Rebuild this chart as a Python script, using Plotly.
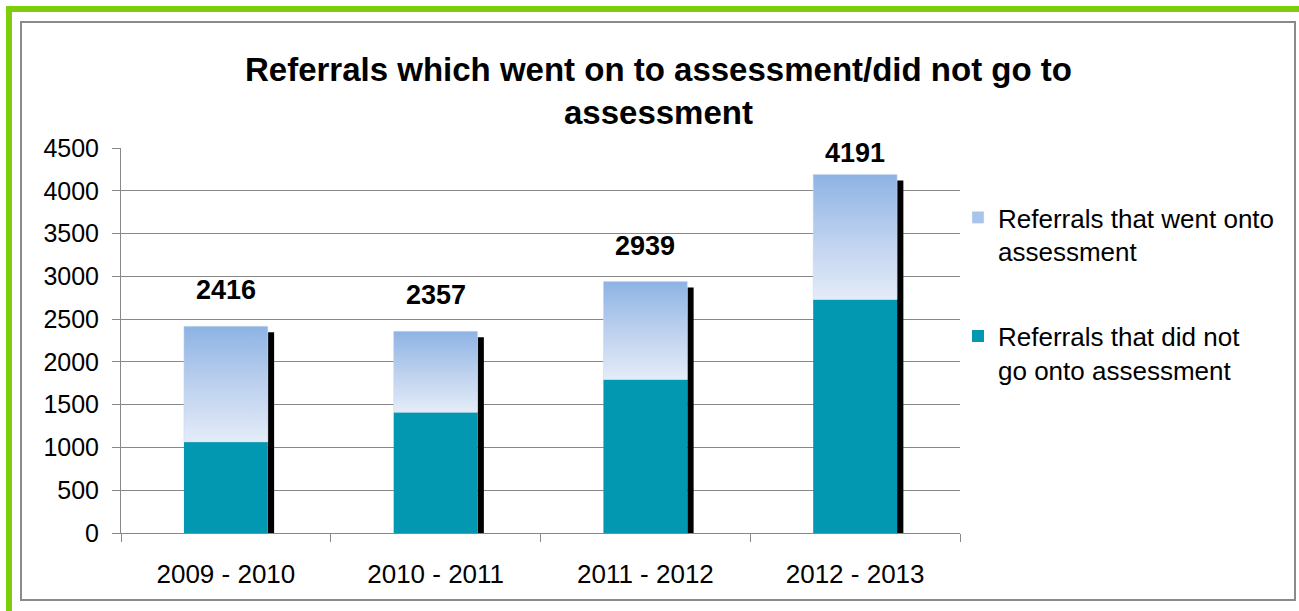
import plotly.graph_objects as go

# Referral counts per reporting year
periods = ["2009 - 2010", "2010 - 2011", "2011 - 2012", "2012 - 2013"]
not_assessed = [1065, 1410, 1795, 2730]   # referrals that did not go onto assessment
assessed = [1351, 947, 1144, 1461]        # referrals that went onto assessment
totals = [a + b for a, b in zip(not_assessed, assessed)]
y_ticks = [0, 500, 1000, 1500, 2000, 2500, 3000, 3500, 4000, 4500]

name_assessed = "Referrals that went onto<br>assessment"
name_not_assessed = "Referrals that did not<br>go onto assessment"
title_text = "Referrals which went on to assessment/did not go to<br>assessment"

# Page geometry (pixels)
W, H = 1299, 611
PL, PR, PT, PB = 121, 960, 148, 533   # plot area edges
Y_MAX = 4500
BAR_W = 0.4
TEAL = "#0398B1"
GRAD = [[0.0, "#E4ECF8"], [0.5, "#BCD0EE"], [1.0, "#8DB3E4"]]
GRID = "#888888"
FONT = "Liberation Sans, Arial, sans-serif"

px_per_unit = (PB - PT) / Y_MAX
shadow_drop = 6 / px_per_unit       # shadow top sits a few pixels below the bar top
label_gap = 36 / px_per_unit        # total labels float above the bars
label_cap = Y_MAX - 5 / px_per_unit


def px_x(p):
    return (p - PL) / (PR - PL)


def px_y(p):
    return (PB - p) / (PB - PT)


fig = go.Figure()

# drop shadows behind each stack
fig.add_trace(go.Bar(
    x=periods, y=[t - shadow_drop for t in totals], base=0,
    width=0.03, offset=BAR_W / 2,
    marker=dict(color="black", line=dict(width=0)),
    showlegend=False, hoverinfo="skip",
))

# lower segment
fig.add_trace(go.Bar(
    x=periods, y=not_assessed, width=BAR_W, name=name_not_assessed,
    marker=dict(color=TEAL, line=dict(width=0)),
    legendgroup="b", legendrank=2,
))

# upper segment, drawn as gradient-filled rectangles on a numeric overlay axis
for i, (lo, hi) in enumerate(zip(not_assessed, totals)):
    x0, x1 = i - BAR_W / 2, i + BAR_W / 2
    fig.add_trace(go.Scatter(
        x=[x0, x1, x1, x0, x0], y=[lo, lo, hi, hi, lo],
        xaxis="x2", mode="lines", fill="toself",
        line=dict(width=0.5, color="#C8D8F0"),
        fillgradient=dict(type="vertical", colorscale=GRAD),
        showlegend=False, hoverinfo="skip",
    ))

# legend entry for the upper segment
fig.add_trace(go.Bar(
    x=[periods[0]], y=[None], name=name_assessed,
    marker=dict(color="#A9C4EA"), legendgroup="a", legendrank=1,
))

# total labels
for p, t in zip(periods, totals):
    fig.add_annotation(
        x=p, y=min(t + label_gap, label_cap), text=f"<b>{t}</b>",
        showarrow=False, yanchor="middle",
        font=dict(family=FONT, size=27, color="black"),
    )

# title
fig.add_annotation(
    x=px_x(658), y=px_y(91), xref="paper", yref="paper",
    text=f"<b>{title_text}</b>", showarrow=False,
    xanchor="center", yanchor="middle",
    font=dict(family=FONT, size=33, color="black"),
)

shapes = [
    # outer chart frame
    dict(type="rect", xref="paper", yref="paper",
         x0=px_x(21), x1=px_x(1295), y0=px_y(600), y1=px_y(22),
         line=dict(color="#8A8A8A", width=2), fillcolor="rgba(0,0,0,0)"),
    # green page border (top and left)
    dict(type="rect", xref="paper", yref="paper",
         x0=px_x(6), x1=px_x(1305), y0=px_y(12), y1=px_y(6),
         line=dict(width=0), fillcolor="#7FCC0C"),
    dict(type="rect", xref="paper", yref="paper",
         x0=px_x(6), x1=px_x(12), y0=px_y(620), y1=px_y(6),
         line=dict(width=0), fillcolor="#7FCC0C"),
]

fig.update_layout(
    width=W, height=H,
    margin=dict(l=PL, r=W - PR, t=PT, b=H - PB, pad=0),
    paper_bgcolor="white", plot_bgcolor="white",
    barmode="overlay",
    font=dict(family=FONT, size=24, color="black"),
    shapes=shapes,
    legend=dict(
        x=px_x(958), y=px_y(194), xanchor="left", yanchor="top",
        font=dict(family=FONT, size=26, color="black"),
        tracegroupgap=48, traceorder="grouped", valign="top",
        bgcolor="rgba(0,0,0,0)",
    ),
    xaxis=dict(
        type="category", categoryorder="array", categoryarray=periods,
        range=[-0.5, 3.5], tickson="boundaries", ticks="outside", ticklen=8,
        tickcolor=GRID, showline=True, linecolor=GRID, linewidth=1,
        showgrid=False, zeroline=False, ticklabelstandoff=18,
        tickfont=dict(family=FONT, size=26, color="black"),
    ),
    xaxis2=dict(
        overlaying="x", range=[-0.5, 3.5], visible=False, fixedrange=True,
    ),
    yaxis=dict(
        range=[0, Y_MAX], tickvals=y_ticks, ticks="outside", ticklen=8,
        tickcolor=GRID, showline=True, linecolor=GRID, linewidth=1,
        showgrid=True, gridcolor=GRID, gridwidth=1, zeroline=False,
        ticklabelstandoff=8,
        tickfont=dict(family=FONT, size=25, color="black"),
    ),
)

fig.write_html("out.html")
